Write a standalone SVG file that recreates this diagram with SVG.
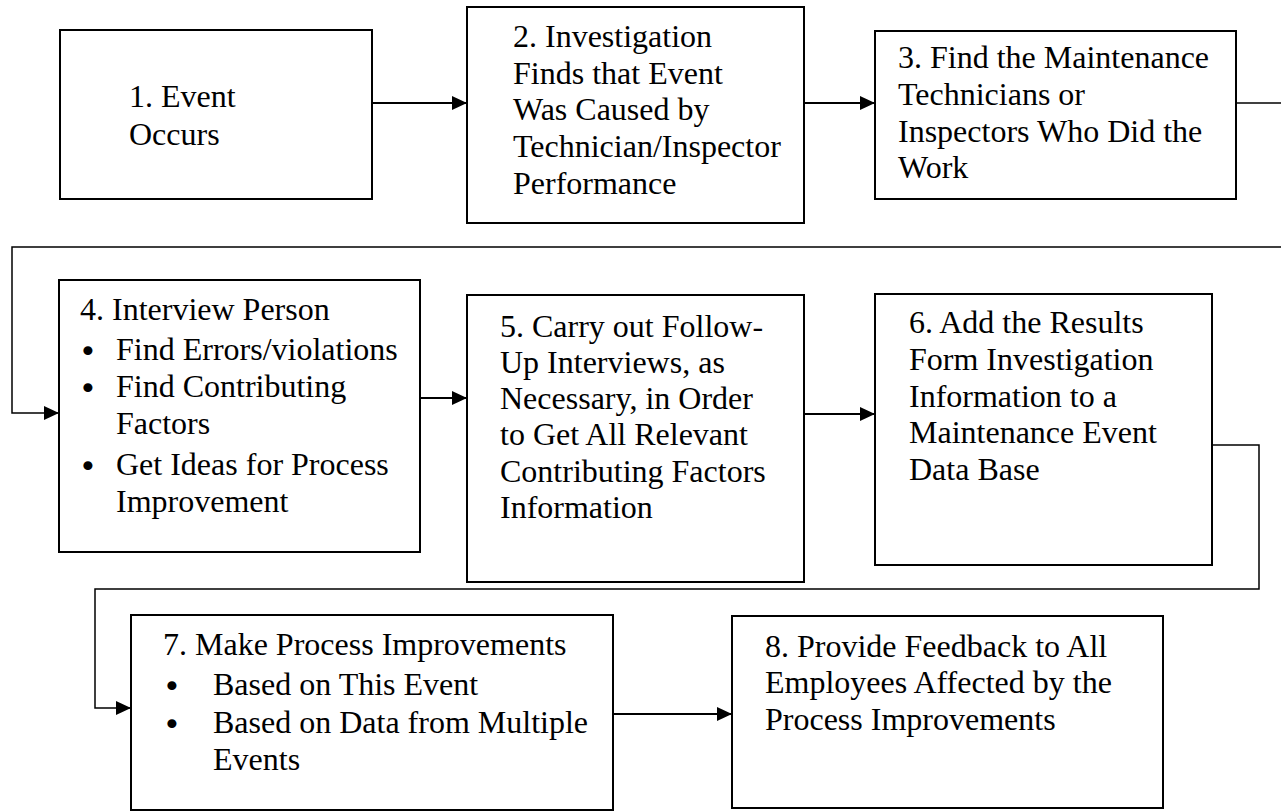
<svg xmlns="http://www.w3.org/2000/svg" width="1281" height="811" viewBox="0 0 1281 811">
<style>
.box{fill:#fff;stroke:#000;stroke-width:2}
.t{font-family:"Liberation Serif","Times New Roman",serif;font-size:32px;fill:#000}
.b{font-family:"DejaVu Sans",sans-serif;font-size:31px;fill:#000;text-anchor:middle}
.c{fill:none;stroke:#000;stroke-width:2}
.r{fill:none;stroke:#000;stroke-width:1.5}
</style>
<defs>
<marker id="ah" markerUnits="userSpaceOnUse" markerWidth="16" markerHeight="14" refX="15" refY="7" orient="auto">
<path d="M0,0 L15,7 L0,14 z" fill="#000"/>
</marker>
</defs>
<rect width="1281" height="811" fill="#fff"/>
<g id="connectors">
<path class="c" d="M372,103 H467" marker-end="url(#ah)"/>
<path class="c" d="M804,103 H875" marker-end="url(#ah)"/>
<path class="r" d="M1236,103 H1281"/>
<path class="r" d="M1281,247 H12 V413 H59" marker-end="url(#ah)"/>
<path class="c" d="M420,398 H467" marker-end="url(#ah)"/>
<path class="c" d="M804,414 H875" marker-end="url(#ah)"/>
<path class="r" d="M1212,445 H1259 V589 H95 V708 H131" marker-end="url(#ah)"/>
<path class="c" d="M613,714 H732" marker-end="url(#ah)"/>
</g>
<g id="node1">
<rect class="box" x="60" y="30" width="312" height="169"/>
<text class="t" x="129" y="107">1. Event</text>
<text class="t" x="129" y="145">Occurs</text>
</g>
<g id="node2">
<rect class="box" x="467" y="7" width="337" height="216"/>
<text class="t" x="513" y="47">2. Investigation</text>
<text class="t" x="513" y="84">Finds that Event</text>
<text class="t" x="513" y="120">Was Caused by</text>
<text class="t" x="513" y="157">Technician/Inspector</text>
<text class="t" x="513" y="194">Performance</text>
</g>
<g id="node3">
<rect class="box" x="875" y="31" width="361" height="168"/>
<text class="t" x="898" y="68">3. Find the Maintenance</text>
<text class="t" x="898" y="105">Technicians or</text>
<text class="t" x="898" y="142">Inspectors Who Did the</text>
<text class="t" x="898" y="178">Work</text>
</g>
<g id="node4">
<rect class="box" x="59" y="280" width="361" height="272"/>
<text class="t" x="80" y="320">4. Interview Person</text>
<text class="b" x="88" y="362">•</text>
<text class="t" x="116" y="360">Find Errors/violations</text>
<text class="b" x="88" y="399">•</text>
<text class="t" x="116" y="397">Find Contributing</text>
<text class="t" x="116" y="434">Factors</text>
<text class="b" x="88" y="477">•</text>
<text class="t" x="116" y="475">Get Ideas for Process</text>
<text class="t" x="116" y="512">Improvement</text>
</g>
<g id="node5">
<rect class="box" x="467" y="295" width="337" height="287"/>
<text class="t" x="500" y="337">5. Carry out Follow-</text>
<text class="t" x="500" y="373">Up Interviews, as</text>
<text class="t" x="500" y="409">Necessary, in Order</text>
<text class="t" x="500" y="445">to Get All Relevant</text>
<text class="t" x="500" y="482">Contributing Factors</text>
<text class="t" x="500" y="518">Information</text>
</g>
<g id="node6">
<rect class="box" x="875" y="294" width="337" height="271"/>
<text class="t" x="909" y="333">6. Add the Results</text>
<text class="t" x="909" y="370">Form Investigation</text>
<text class="t" x="909" y="407">Information to a</text>
<text class="t" x="909" y="443">Maintenance Event</text>
<text class="t" x="909" y="480">Data Base</text>
</g>
<g id="node7">
<rect class="box" x="131" y="615" width="482" height="195"/>
<text class="t" x="163" y="655">7. Make Process Improvements</text>
<text class="b" x="172" y="697">•</text>
<text class="t" x="213" y="695">Based on This Event</text>
<text class="b" x="172" y="735">•</text>
<text class="t" x="213" y="733">Based on Data from Multiple</text>
<text class="t" x="213" y="770">Events</text>
</g>
<g id="node8">
<rect class="box" x="732" y="616" width="431" height="192"/>
<text class="t" x="765" y="657">8. Provide Feedback to All</text>
<text class="t" x="765" y="693">Employees Affected by the</text>
<text class="t" x="765" y="730">Process Improvements</text>
</g>
</svg>
